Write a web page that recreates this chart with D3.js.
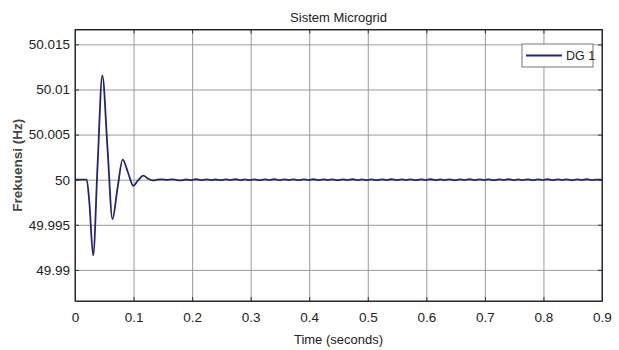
<!DOCTYPE html>
<html>
<head>
<meta charset="utf-8">
<script src="https://cdn.jsdelivr.net/npm/d3@7"></script>
<style>
  body { margin: 0; background: #fff; }
  text { font-family: "Liberation Sans", Arial, sans-serif; fill: #222; }
</style>
</head>
<body>
<div id="chart"></div>
<script>
// frequency response of DG 1
var timeVals = [0, 0.02, 0.0245, 0.031, 0.0385, 0.0467, 0.0555, 0.064, 0.0725, 0.0814, 0.0905, 0.0996, 0.108, 0.1166, 0.125, 0.133,
  0.141, 0.149, 0.157, 0.165, 0.174, 0.182, 0.190, 0.199, 0.207, 0.215, 0.224, 0.232, 0.240, 0.249, 0.257, 0.265,
  0.274, 0.282, 0.290, 0.299, 0.307, 0.315, 0.324, 0.332, 0.340, 0.349, 0.357, 0.365, 0.374, 0.382, 0.390, 0.399,
  0.407, 0.415, 0.424, 0.432, 0.440, 0.449, 0.457, 0.465, 0.474, 0.482, 0.490, 0.499, 0.507, 0.515, 0.524, 0.532,
  0.540, 0.549, 0.557, 0.565, 0.574, 0.582, 0.590, 0.599, 0.607, 0.615, 0.624, 0.632, 0.640, 0.649, 0.657, 0.665,
  0.674, 0.682, 0.690, 0.699, 0.707, 0.715, 0.724, 0.732, 0.740, 0.749, 0.757, 0.765, 0.774, 0.782, 0.790, 0.799,
  0.807, 0.815, 0.824, 0.832, 0.840, 0.849, 0.857, 0.865, 0.874, 0.882, 0.890, 0.9];
var freqVals = [50, 50, 49.9975, 49.9916, 50.0015, 50.01156, 50.0035, 49.99563, 49.9990, 50.00222, 50.0008, 49.99933, 49.99995, 50.00044, 50.0001, 49.99992,
  50.0000, 50.00003, 49.99997, 50.00004, 49.99996, 49.99993, 50.00002, 49.99996, 50.00005, 49.99995, 50.00003, 49.99996, 50.00002, 49.99994, 50.00004, 49.99996,
  50.00005, 49.99995, 50.00003, 49.99995, 50.00004, 49.99994, 50.00004, 49.99996, 50.00005, 49.99995, 50.00003, 49.99996, 50.00004, 49.99994, 50.00003, 49.99996,
  50.00005, 49.99995, 50.00003, 49.99996, 50.00004, 49.99994, 50.00004, 49.99996, 50.00005, 49.99995, 50.00003, 49.99995, 50.00004, 49.99994, 50.00003, 49.99996,
  50.00005, 49.99995, 50.00003, 49.99996, 50.00004, 49.99994, 50.00004, 49.99996, 50.00005, 49.99995, 50.00003, 49.99995, 50.00004, 49.99994, 50.00003, 49.99996,
  50.00005, 49.99995, 50.00003, 49.99996, 50.00004, 49.99994, 50.00004, 49.99996, 50.00005, 49.99995, 50.00003, 49.99995, 50.00004, 49.99994, 50.00003, 49.99996,
  50.00005, 49.99995, 50.00003, 49.99996, 50.00004, 49.99994, 50.00004, 49.99996, 50.00005, 49.99995, 50.0000, 50.0000];
var xTicks = [0, 0.1, 0.2, 0.3, 0.4, 0.5, 0.6, 0.7, 0.8, 0.9];
var xTickLabels = ["0", "0.1", "0.2", "0.3", "0.4", "0.5", "0.6", "0.7", "0.8", "0.9"];
var yTicks = [49.99, 49.995, 50, 50.005, 50.01, 50.015];
var yTickLabels = ["49.99", "49.995", "50", "50.005", "50.01", "50.015"];
var seriesName = "DG 1";

var svgWidth = 619, svgHeight = 350;
var margin = {top: 29.5, right: 17, bottom: 49, left: 75};
var width = svgWidth - margin.left - margin.right;
var height = svgHeight - margin.top - margin.bottom;

var svg = d3.select("#chart").append("svg")
  .attr("width", svgWidth)
  .attr("height", svgHeight);
var chartGroup = svg.append("g")
  .attr("transform", `translate(${margin.left}, ${margin.top})`);

var xScale = d3.scaleLinear().domain([0, 0.9]).range([0, width]);
var yScale = d3.scaleLinear().domain([49.98655, 50.01665]).range([height, 0]);

// grid
chartGroup.append("g")
  .call(d3.axisBottom(xScale).tickValues(xTicks).tickSize(height).tickFormat(""))
  .call(g => g.select(".domain").remove())
  .selectAll("line").attr("stroke", "#9a9a9a");
chartGroup.append("g")
  .call(d3.axisLeft(yScale).tickValues(yTicks).tickSize(-width).tickFormat(""))
  .call(g => g.select(".domain").remove())
  .selectAll("line").attr("stroke", "#9a9a9a");

// axes with inward ticks
var xAxis = chartGroup.append("g")
  .attr("transform", `translate(0, ${height})`)
  .call(d3.axisBottom(xScale).tickValues(xTicks).tickSizeInner(-4).tickSizeOuter(0).tickPadding(11)
    .tickFormat((d, i) => xTickLabels[i]));
var yAxis = chartGroup.append("g")
  .call(d3.axisLeft(yScale).tickValues(yTicks).tickSizeInner(-4).tickSizeOuter(0).tickPadding(5)
    .tickFormat((d, i) => yTickLabels[i]));
chartGroup.append("g")
  .attr("transform", `translate(${width}, 0)`)
  .call(d3.axisRight(yScale).tickValues(yTicks).tickSizeInner(-4).tickSizeOuter(0).tickFormat(""));
chartGroup.append("g")
  .call(d3.axisTop(xScale).tickValues(xTicks).tickSizeInner(-4).tickSizeOuter(0).tickFormat(""));

[xAxis, yAxis].forEach(function(ax) {
  ax.selectAll("text")
    .style("font-family", "'Liberation Sans', Arial, sans-serif")
    .style("font-size", "13.5px")
    .attr("fill", "#222");
});
chartGroup.selectAll(".domain").attr("stroke", "#333");
chartGroup.selectAll(".tick line").filter(function() { return this.getAttribute("stroke") === "currentColor"; })
  .attr("stroke", "#333");

chartGroup.append("rect")
  .attr("width", width).attr("height", height)
  .attr("fill", "none").attr("stroke", "#222").attr("stroke-width", 1);

// series
var pts = timeVals.map((t, i) => [t, freqVals[i]]);
var line = d3.line()
  .x(d => xScale(d[0]))
  .y(d => yScale(d[1]))
  .curve(d3.curveMonotoneX);
chartGroup.append("path")
  .datum(pts)
  .attr("d", line)
  .attr("fill", "none")
  .attr("stroke", "#23237a")
  .attr("stroke-width", 1.8);

// legend
var legend = chartGroup.append("g")
  .attr("transform", `translate(${447}, ${14.5})`);
legend.append("rect")
  .attr("width", 71).attr("height", 23)
  .attr("fill", "#fff").attr("stroke", "#777");
legend.append("line")
  .attr("x1", 4).attr("x2", 40).attr("y1", 11.5).attr("y2", 11.5)
  .attr("stroke", "#23237a").attr("stroke-width", 1.8);
legend.append("text")
  .attr("x", 44).attr("y", 16)
  .style("font-size", "12.5px")
  .text(seriesName);

// title and labels
svg.append("text")
  .attr("x", margin.left + width / 2).attr("y", 22)
  .attr("text-anchor", "middle")
  .style("font-size", "13px")
  .text("Sistem Microgrid");
svg.append("text")
  .attr("x", margin.left + width / 2).attr("y", 344)
  .attr("text-anchor", "middle")
  .style("font-size", "13px")
  .text("Time (seconds)");
svg.append("text")
  .attr("transform", `translate(22, ${margin.top + height / 2}) rotate(-90)`)
  .attr("text-anchor", "middle")
  .style("font-size", "13.5px")
  .style("font-weight", "bold")
  .style("fill", "#444")
  .text("Frekuensi (Hz)");
</script>
</body>
</html>
